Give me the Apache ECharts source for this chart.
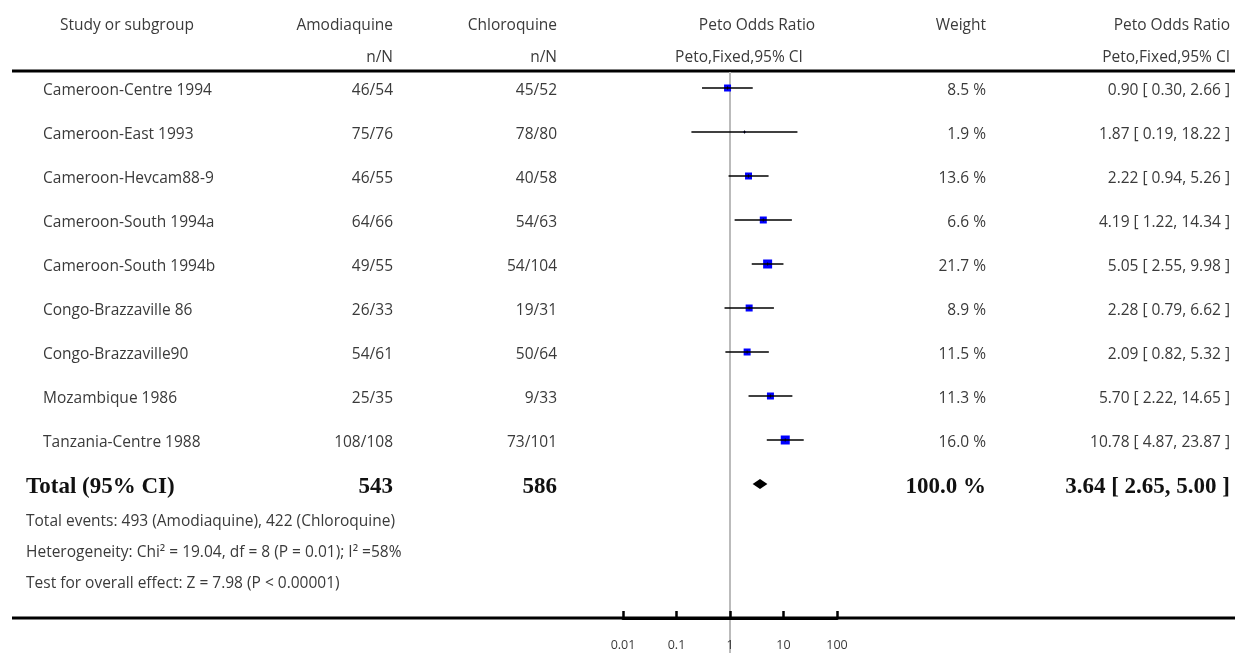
<!DOCTYPE html>
<html>
<head>
<meta charset="utf-8">
<script src="https://cdn.jsdelivr.net/npm/echarts@6/dist/echarts.min.js"></script>
<style>
html,body{margin:0;padding:0;background:#fff;}
#chart{width:1235px;height:653px;}
</style>
</head>
<body>
<div id="chart"></div>
<script>
// ---- data ----
const studies = ['Cameroon-Centre 1994','Cameroon-East 1993','Cameroon-Hevcam88-9','Cameroon-South 1994a','Cameroon-South 1994b','Congo-Brazzaville 86','Congo-Brazzaville90','Mozambique 1986','Tanzania-Centre 1988'];
const amoEvents = [46,75,46,64,49,26,54,25,108];
const amoTotal  = [54,76,55,66,55,33,61,35,108];
const chlEvents = [45,78,40,54,54,19,50,9,73];
const chlTotal  = [52,80,58,63,104,31,64,33,101];
const weights   = [8.5,1.9,13.6,6.6,21.7,8.9,11.5,11.3,16.0];
const orEst     = [0.90,1.87,2.22,4.19,5.05,2.28,2.09,5.70,10.78];
const orLow     = [0.30,0.19,0.94,1.22,2.55,0.79,0.82,2.22,4.87];
const orHigh    = [2.66,18.22,5.26,14.34,9.98,6.62,5.32,14.65,23.87];
const totalLabel = 'Total (95% CI)';
const totalAmo = 543, totalChl = 586, totalWeight = 100.0;
const totalOr = [3.64, 2.65, 5.00];
const footnotes = [
  'Total events: 493 (Amodiaquine), 422 (Chloroquine)',
  'Heterogeneity: Chi\u00B2 = 19.04, df = 8 (P = 0.01); I\u00B2 =58%',
  'Test for overall effect: Z = 7.98 (P < 0.00001)'
];
const xTicks = [0.01, 0.1, 1, 10, 100];

// ---- layout / style ----
const FONT_FAMILY = '"Open Sans", Lato, sans-serif';
const FS = 15.5;
const TXT = '#3a3a3a';
const BOLD_FONT = 'bold 23px "Liberation Serif", "DejaVu Serif", serif';
const ROW_H = 44, GRID_TOP = 66, AXIS_Y = 618;
const Y_MIN = -0.5, Y_MAX = Y_MIN + (AXIS_Y - GRID_TOP) / ROW_H;
const COL = {study: 43, amo: 393, chl: 557, weight: 986, ci: 1230};

function boxSize(w){ return w < 5 ? 2 : (w < 15 ? 7 : 9); }
function fmt2(v){ return v.toFixed(2); }
function ciText(e,l,h){ return fmt2(e) + ' [ ' + fmt2(l) + ', ' + fmt2(h) + ' ]'; }

function txt(x, y, text, align, font){
  return {type:'text', x:x, y:y, silent:true,
    style:{text:text, fill: font ? '#111' : TXT, font: font || (FS + 'px ' + FONT_FAMILY), align:align||'left', verticalAlign:'middle'}};
}

const chart = echarts.init(document.getElementById('chart'), null, {renderer:'canvas'});

const tableRows = studies.map((s,i)=>[1,i]).concat([[1, studies.length]]);

const option = {
  animation:false,
  backgroundColor:'#fff',
  grid:{left:623, width:214, top:GRID_TOP, height:AXIS_Y-GRID_TOP},
  xAxis:{type:'log', logBase:10, min:xTicks[0], max:xTicks[xTicks.length-1], z:5,
    axisLine:{show:true, onZero:false, lineStyle:{color:'#000', width:3}},
    axisTick:{show:true, inside:true, length:7, lineStyle:{color:'#000', width:2.5}},
    splitLine:{show:false},
    axisLabel:{show:true, margin:21, color:TXT, fontSize:12.5, fontFamily:FONT_FAMILY,
      formatter:function(v){ return String(+v.toPrecision(3)); }}
  },
  yAxis:{type:'value', inverse:true, min:Y_MIN, max:Y_MAX, show:false},
  graphic:{elements:[
    {type:'line', silent:true, shape:{x1:12,y1:71,x2:1235,y2:71}, style:{stroke:'#000', lineWidth:3}},
    {type:'line', silent:true, z:1, shape:{x1:12,y1:AXIS_Y,x2:1235,y2:AXIS_Y}, style:{stroke:'#000', lineWidth:3}},
    txt(127,26,'Study or subgroup','center'),
    txt(COL.amo,26,'Amodiaquine','right'),
    txt(COL.amo,58,'n/N','right'),
    txt(COL.chl,26,'Chloroquine','right'),
    txt(COL.chl,58,'n/N','right'),
    txt(757,26,'Peto Odds Ratio','center'),
    txt(739,58,'Peto,Fixed,95% CI','center'),
    txt(COL.weight,26,'Weight','right'),
    txt(COL.ci,26,'Peto Odds Ratio','right'),
    txt(COL.ci,58,'Peto,Fixed,95% CI','right'),
    txt(26,522,footnotes[0],'left'),
    txt(26,553,footnotes[1],'left'),
    txt(26,584,footnotes[2],'left')
  ]},
  series:[
    { // reference line at OR = 1
      type:'custom', clip:false, silent:true, z:0,
      data:[[1, Y_MIN]],
      renderItem:function(params, api){
        const p = api.coord([api.value(0), api.value(1)]);
        return {type:'line', shape:{x1:p[0], y1:72, x2:p[0], y2:653}, style:{stroke:'#bbbbbb', lineWidth:2}};
      }
    },
    { // study estimates
      type:'custom', clip:false, silent:true, z:3,
      data: orEst.map((v,i)=>[v, i, orLow[i], orHigh[i], weights[i]]),
      renderItem:function(params, api){
        const c = api.coord([api.value(0), api.value(1)]);
        const l = api.coord([api.value(2), api.value(1)]);
        const h = api.coord([api.value(3), api.value(1)]);
        const s = boxSize(api.value(4));
        return {type:'group', children:[
          {type:'rect', shape:{x:c[0]-s/2, y:c[1]-s/2, width:s, height:s}, style:{fill:'#0000ff'}},
          {type:'line', shape:{x1:l[0], y1:c[1], x2:h[0], y2:c[1]}, style:{stroke:'#000', lineWidth:1.6}},
          {type:'line', shape:{x1:c[0], y1:c[1]-1.5, x2:c[0], y2:c[1]+1.5}, style:{stroke:'#000', lineWidth:1}}
        ]};
      }
    },
    { // pooled diamond
      type:'custom', clip:false, silent:true, z:3,
      data:[[totalOr[0], studies.length, totalOr[1], totalOr[2]]],
      renderItem:function(params, api){
        const c = api.coord([api.value(0), api.value(1)]);
        const l = api.coord([api.value(2), api.value(1)]);
        const h = api.coord([api.value(3), api.value(1)]);
        return {type:'polygon', shape:{points:[[l[0],c[1]],[c[0],c[1]-5],[h[0],c[1]],[c[0],c[1]+5]]}, style:{fill:'#000'}};
      }
    },
    { // table text
      type:'custom', clip:false, silent:true, z:4,
      data: tableRows,
      renderItem:function(params, api){
        const i = params.dataIndex;
        const y = api.coord([api.value(0), api.value(1)])[1];
        if (i < studies.length) {
          return {type:'group', children:[
            txt(COL.study, y+2.5, studies[i], 'left'),
            txt(COL.amo, y+2.5, amoEvents[i]+'/'+amoTotal[i], 'right'),
            txt(COL.chl, y+2.5, chlEvents[i]+'/'+chlTotal[i], 'right'),
            txt(COL.weight, y+2.5, weights[i].toFixed(1)+' %', 'right'),
            txt(COL.ci, y+2.5, ciText(orEst[i], orLow[i], orHigh[i]), 'right')
          ]};
        }
        return {type:'group', children:[
          txt(26, y+3, totalLabel, 'left', BOLD_FONT),
          txt(COL.amo, y+3, String(totalAmo), 'right', BOLD_FONT),
          txt(COL.chl, y+3, String(totalChl), 'right', BOLD_FONT),
          txt(COL.weight, y+3, totalWeight.toFixed(1)+' %', 'right', BOLD_FONT),
          txt(COL.ci, y+3, ciText(totalOr[0], totalOr[1], totalOr[2]), 'right', BOLD_FONT)
        ]};
      }
    }
  ]
};
chart.setOption(option);
</script>
</body>
</html>
